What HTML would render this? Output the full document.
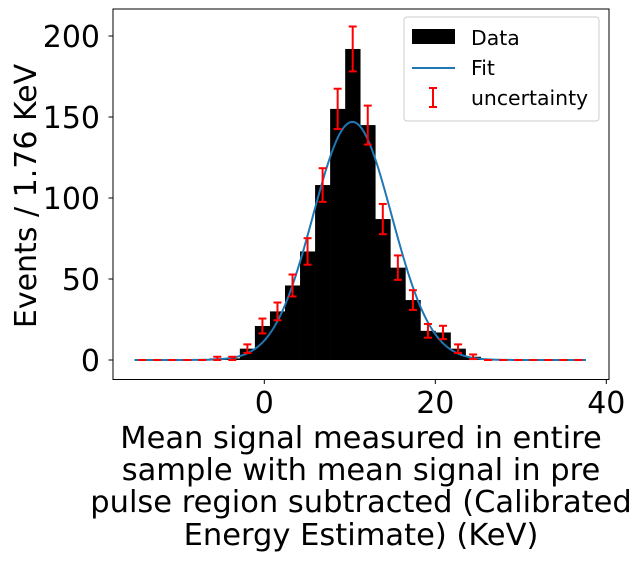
<!DOCTYPE html>
<html><head><meta charset="utf-8"><style>
body{margin:0;background:#fff;}
svg text{font-family:"DejaVu Sans","Liberation Sans",sans-serif;}
</style></head><body>
<svg id="chart" width="641" height="563" xmlns="http://www.w3.org/2000/svg">
<rect width="641" height="563" fill="#fff"/>
<g id="bars"></g>
<g id="fit"></g>
<g id="errs"></g>
<rect x="113" y="9" width="496" height="370.5" fill="none" stroke="#000" stroke-width="1"/>
<g id="xt"></g>
<g id="yt"></g>
<text transform="translate(36,196) rotate(-90)" text-anchor="middle" font-size="30">Events / 1.76 KeV</text>
<g font-size="30.5" text-anchor="middle">
<text x="361" y="448">Mean signal measured in entire</text>
<text x="361" y="480">sample with mean signal in pre</text>
<text x="361" y="512">pulse region subtracted (Calibrated</text>
<text x="361" y="545">Energy Estimate) (KeV)</text>
</g>
<g>
<rect x="404" y="17" width="195" height="104" rx="3" fill="#fff" stroke="#ccc" fill-opacity="0.8"/>
<rect x="412" y="29" width="43" height="15" fill="#000"/>
<text x="471" y="45" font-size="20.4">Data</text>
<line x1="412" y1="68" x2="455" y2="68" stroke="#1f77b4" stroke-width="2"/>
<text x="471" y="75" font-size="20.4">Fit</text>
<g stroke="red" stroke-width="2"><line x1="433" y1="88" x2="433" y2="107"/><line x1="429" y1="88" x2="437" y2="88"/><line x1="429" y1="107" x2="437" y2="107"/></g>
<text x="471" y="105" font-size="20.4">uncertainty</text>
</g>
</svg>
<script>
const binStart = -15.18;
const binWidth = 1.76;
const counts = [0,0,0,0,0,1,1,7,21,30,46,67,108,155,192,145,87,57,37,18,17,7,2,0,0,0,0,0,0,0];
const fitAmp = [147];
const fitMean = [10.3];
const fitSigma = [4.6];
const xTicks = [0,20,40];
const yTicks = [0,50,100,150,200];
const NS='http://www.w3.org/2000/svg';
const xs = v => 264.3 + v*8.55;
const ys = v => 360 - v*1.62;
function mk(tag, attrs, parent){const e=document.createElementNS(NS,tag);for(const k in attrs)e.setAttribute(k,attrs[k]);parent.appendChild(e);return e;}
const bars=document.getElementById('bars'), errs=document.getElementById('errs'), fit=document.getElementById('fit');
counts.forEach((c,i)=>{
  const x0=xs(binStart+i*binWidth), x1=xs(binStart+(i+1)*binWidth);
  if(c>0){
    const r=mk('rect',{x:x0,y:ys(c),width:x1-x0+0.3,height:ys(0)-ys(c),fill:'#000'},bars);
    
    
  }
  const cx=(x0+x1)/2, e=Math.sqrt(c);
  const g=mk('g',{stroke:'red','stroke-width':2},errs);
  
  
  mk('line',{x1:cx,x2:cx,y1:ys(c-e),y2:ys(c+e)},g);
  mk('line',{x1:cx-4,x2:cx+4,y1:ys(c-e),y2:ys(c-e)},g);
  mk('line',{x1:cx-4,x2:cx+4,y1:ys(c+e),y2:ys(c+e)},g);
});
let d='';
const xa=binStart, xb=binStart+counts.length*binWidth;
for(let k=0;k<=300;k++){const v=xa+(xb-xa)*k/300;const y=fitAmp[0]*Math.exp(-0.5*Math.pow((v-fitMean[0])/fitSigma[0],2));d+=(k?'L':'M')+xs(v).toFixed(2)+' '+ys(y).toFixed(2);}
const p=mk('path',{d:d,fill:'none',stroke:'#1f77b4','stroke-width':2},fit);


const xt=document.getElementById('xt'), yt=document.getElementById('yt');
xTicks.forEach(t=>{
  mk('line',{x1:xs(t),x2:xs(t),y1:379.5,y2:384,stroke:'#000'},xt);
  const tx=mk('text',{x:xs(t),y:413,'font-size':30,'text-anchor':'middle'},xt);
  tx.textContent=t;
  
  
});
yTicks.forEach(t=>{
  mk('line',{x1:108.5,x2:113,y1:ys(t),y2:ys(t),stroke:'#000'},yt);
  const tx=mk('text',{x:100,y:ys(t)+11,'font-size':30,'text-anchor':'end'},yt);
  tx.textContent=t;
  
  
});
</script>
</body></html>
